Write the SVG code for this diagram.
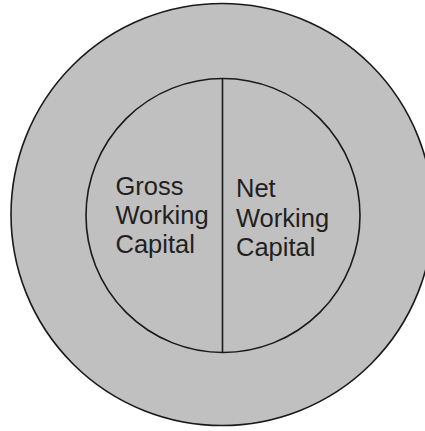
<svg xmlns="http://www.w3.org/2000/svg" width="425" height="431" viewBox="0 0 425 431">
<style>
.c{fill:#c0c0c0;stroke:#1a1a1a;stroke-width:1.6}
.t{font-family:"Liberation Sans",Arial,sans-serif;font-size:25.5px;fill:#231f20}
.l{stroke:#1a1a1a;stroke-width:1.6;fill:none}
</style>
<rect width="425" height="431" fill="#ffffff"/>
<g id="outer"><circle class="c" cx="222" cy="214.5" r="211"/></g>
<g id="inner"><circle class="c" cx="223" cy="215.5" r="137"/></g>
<g id="connectors"><line class="l" x1="222.5" y1="78.5" x2="222.5" y2="352.5"/></g>
<g id="gross"><text class="t" x="115.5" y="195">Gross</text><text class="t" x="115.5" y="224">Working</text><text class="t" x="115.5" y="253">Capital</text></g>
<g id="net"><text class="t" x="236" y="197">Net</text><text class="t" x="236" y="226.5">Working</text><text class="t" x="236" y="256">Capital</text></g>
</svg>
